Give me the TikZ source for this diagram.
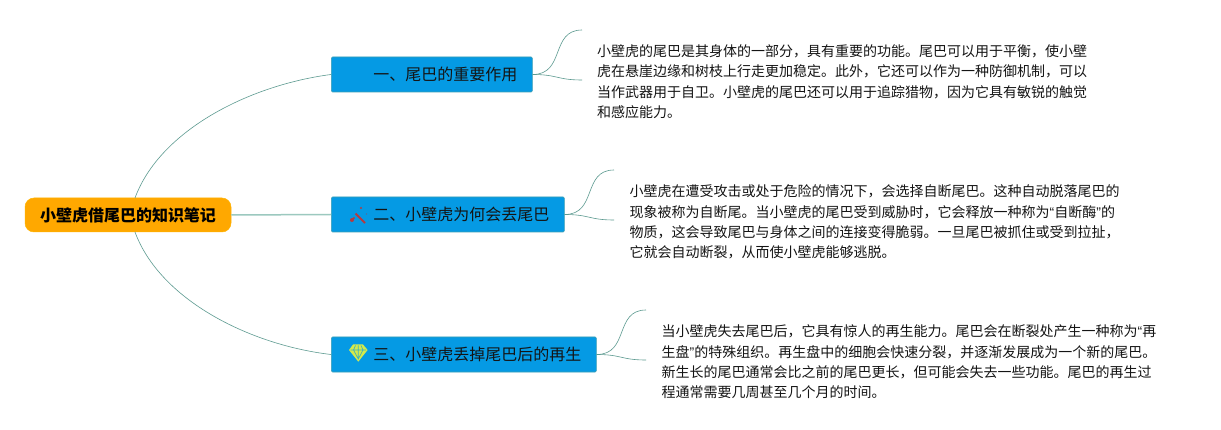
\documentclass[tikz,border=0pt]{standalone}
\usepackage{fontspec}
\setmainfont{Noto Sans CJK SC}
\newfontfamily\latinq{Liberation Sans}
\newcommand{\qopen}{{\latinq “}}
\newcommand{\qclose}{{\latinq ”}}
\newcommand{\dropb}[1]{\raisebox{-1.6pt}{#1}}
\definecolor{rootfill}{HTML}{FFA800}
\definecolor{branchfill}{HTML}{059AE4}
\definecolor{branchedge}{HTML}{3A9DB5}
\definecolor{linkdark}{HTML}{5C9A90}
\definecolor{linkpale}{HTML}{9CC9BF}
\definecolor{hammer}{HTML}{B23C42}
\definecolor{gem}{HTML}{D3EA4C}
\tikzset{
  x=1pt,y=-1pt,
  rootbox/.style={rectangle,rounded corners=9pt,fill=rootfill,draw=rootfill!85!yellow,line width=.5pt,
    minimum width=206pt,minimum height=34pt,inner sep=0pt,text=black,
    font=\fontsize{16}{20}\selectfont\bfseries},
  branchbox/.style={rectangle,rounded corners=1.2pt,fill=branchfill,draw=branchedge,line width=.6pt,
    minimum height=35pt,inner sep=0pt,anchor=west,align=left,text=black!92,
    font=\fontsize{16}{20}\selectfont},
  bodytext/.style={anchor=north west,inner sep=0pt,align=left,text=black!92,
    font=\fontsize{14}{20.45}\selectfont},
  curvelink/.style={draw=linkdark,line width=.6pt},
  straightlink/.style={draw=linkpale,line width=1.5pt},
}
\begin{document}
\begin{tikzpicture}
\useasboundingbox (0,0) rectangle (1221,430);
\fill[white] (0,0) rectangle (1221,430);

\node[rootbox] (root) at (128,215) {\raisebox{-.8pt}{小壁虎借尾巴的知识笔记}};
\node[branchbox,text width=201pt] (b1) at (331,74.5) {\hspace*{42pt}\dropb{一、尾巴的重要作用}};
\node[branchbox,text width=233pt] (b2) at (331,214.5) {\hspace*{42pt}\dropb{二、小壁虎为何会丢尾巴}};
\node[branchbox,text width=265pt] (b3) at (331,354.5) {\hspace*{42pt}\dropb{三、小壁虎丢掉尾巴后的再生}};

\node[bodytext] (t1) at (597,44.5) {小壁虎的尾巴是其身体的一部分，具有重要的功能。尾巴可以用于平衡，使小壁\\
虎在悬崖边缘和树枝上行走更加稳定。此外，它还可以作为一种防御机制，可以\\
当作武器用于自卫。小壁虎的尾巴还可以用于追踪猎物，因为它具有敏锐的触觉\\
和感应能力。};
\node[bodytext] (t2) at (629.5,184.5) {小壁虎在遭受攻击或处于危险的情况下，会选择自断尾巴。这种自动脱落尾巴的\\
现象被称为自断尾。当小壁虎的尾巴受到威胁时，它会释放一种称为\qopen 自断酶\qclose 的\\
物质，这会导致尾巴与身体之间的连接变得脆弱。一旦尾巴被抓住或受到拉扯，\\
它就会自动断裂，从而使小壁虎能够逃脱。};
\node[bodytext] (t3) at (661.5,324.5) {当小壁虎失去尾巴后，它具有惊人的再生能力。尾巴会在断裂处产生一种称为\qopen 再\\
生盘\qclose 的特殊组织。再生盘中的细胞会快速分裂，并逐渐发展成为一个新的尾巴。\\
新生长的尾巴通常会比之前的尾巴更长，但可能会失去一些功能。尾巴的再生过\\
程通常需要几周甚至几个月的时间。};

\coordinate (rt) at (135,198);
\coordinate (rb) at (135,232);
\coordinate (e1a) at (582,30);
\coordinate (e1b) at (582,80);
\coordinate (e2a) at (614,170);
\coordinate (e2b) at (614,220);
\coordinate (e3a) at (646,310);
\coordinate (e3b) at (646,360);

\draw[curvelink] (rt) .. controls (160,130) and (250,85) .. (b1.west);
\draw[straightlink] (root.east) -- (b2.west);
\draw[curvelink] (rb) .. controls (160,300) and (250,345) .. (b3.west);

\draw[curvelink] (b1.east) .. controls +(33,0) and +(-32,0) .. (e1a);
\draw[curvelink] (b1.east) .. controls +(25,0) and +(-25,0) .. (e1b);
\draw[curvelink] (b2.east) .. controls +(33,0) and +(-32,0) .. (e2a);
\draw[curvelink] (b2.east) .. controls +(25,0) and +(-25,0) .. (e2b);
\draw[curvelink] (b3.east) .. controls +(33,0) and +(-32,0) .. (e3a);
\draw[curvelink] (b3.east) .. controls +(25,0) and +(-25,0) .. (e3b);

% hammer icon
\draw[hammer,line width=1.9pt] (355.5,213.5) -- (365,223);
\draw[hammer,line width=1.6pt] (350.5,221) -- (354.5,217.5);
\fill[hammer] (352,220) circle (2);
\fill[hammer] (361,208) circle (1.1);
\fill[hammer!70!branchfill] (366.5,214) circle (.7);

% gem icon
\fill[gem] (353,344.5) -- (363,344.5) -- (367.6,350) -- (358.3,361.7) -- (349,350) -- cycle;
\draw[branchfill!70!gem,line width=.7pt] (350.5,350) -- (366,350)
  (353.5,350) -- (358.3,359) -- (363,350)
  (355.5,345.5) -- (353.5,350) (361,345.5) -- (363,350) (358.3,345.5) -- (358.3,359);
\end{tikzpicture}
\end{document}
